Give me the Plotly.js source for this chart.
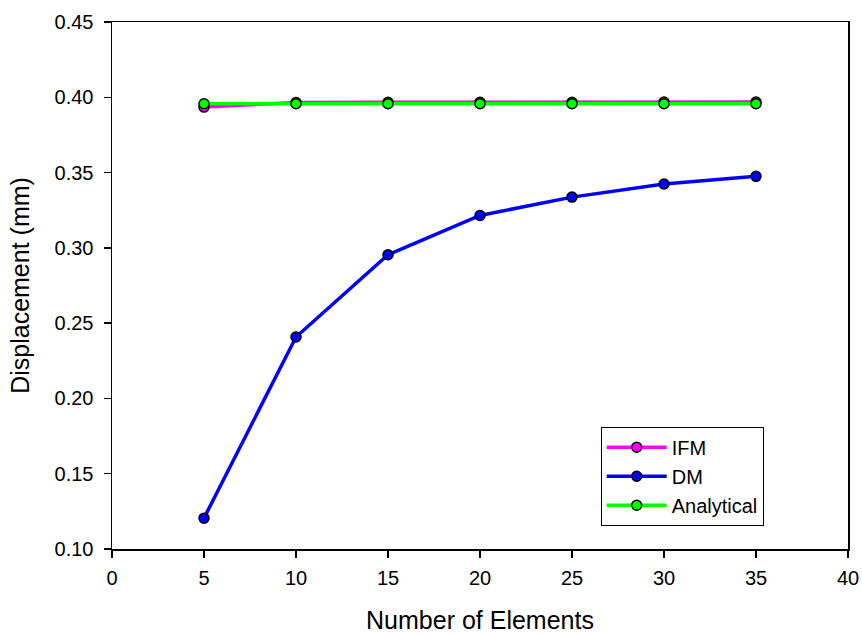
<!DOCTYPE html>
<html>
<head>
<meta charset="utf-8">
<script src="https://cdn.plot.ly/plotly-3.0.1.min.js"></script>
<style>html,body{margin:0;padding:0;background:#fff;}#chart{width:862px;height:634px;}</style>
</head>
<body>
<div id="chart"></div>
<script>
const elements = [5, 10, 15, 20, 25, 30, 35];
const ifm = [0.3935, 0.3965, 0.3967, 0.3967, 0.3967, 0.3968, 0.3968];
const dm = [0.1205, 0.2408, 0.2954, 0.3215, 0.3337, 0.3424, 0.3475];
const analytical = [0.3957, 0.3957, 0.3957, 0.3957, 0.3957, 0.3957, 0.3957];
const xTicks = [0, 5, 10, 15, 20, 25, 30, 35, 40];
const yTicks = [0.10, 0.15, 0.20, 0.25, 0.30, 0.35, 0.40, 0.45];
const yTickText = yTicks.map(v => v.toFixed(2));

const mk = (name, y, color) => ({
  x: elements, y: y, name: name, type: 'scatter', mode: 'lines+markers',
  line: {color: color, width: 3.5},
  marker: {color: color, size: 10, line: {color: '#000', width: 1.5}}
});

const data = [
  mk('IFM', ifm, '#ff00ff'),
  mk('DM', dm, '#0000ff'),
  mk('Analytical', analytical, '#00ff00')
];

const font = 'Liberation Sans, Arial, sans-serif';
const layout = {
  width: 862, height: 634,
  margin: {l: 112, r: 14, t: 22, b: 85},
  paper_bgcolor: '#fff', plot_bgcolor: '#fff',
  font: {family: font, color: '#000', size: 20},
  showlegend: true,
  legend: {
    x: 0.664, y: 0.232, xanchor: 'left', yanchor: 'top',
    bgcolor: '#fff', bordercolor: '#000', borderwidth: 1,
    itemwidth: 60,
    font: {family: font, size: 20, color: '#000'}
  },
  xaxis: {
    range: [0, 40], tickvals: xTicks, ticktext: xTicks.map(String),
    showgrid: false, zeroline: false, showline: true, linecolor: '#000', linewidth: 1.5,
    mirror: true, ticks: 'outside', ticklen: 7, tickwidth: 1.5, tickcolor: '#000',
    ticklabelstandoff: 3,
    tickfont: {family: font, size: 20, color: '#000'},
    title: {text: 'Number of Elements', font: {family: font, size: 25, color: '#000'}, standoff: 24}
  },
  yaxis: {
    range: [0.10, 0.45], tickvals: yTicks, ticktext: yTickText,
    showgrid: false, zeroline: false, showline: true, linecolor: '#000', linewidth: 1.5,
    mirror: true, ticks: 'outside', ticklen: 7, tickwidth: 1.5, tickcolor: '#000',
    ticklabelstandoff: 6,
    tickfont: {family: font, size: 20, color: '#000'},
    title: {text: 'Displacement (mm)', font: {family: font, size: 25, color: '#000'}, standoff: 18}
  }
};

Plotly.newPlot('chart', data, layout, {displayModeBar: false, staticPlot: true});
</script>
</body>
</html>
